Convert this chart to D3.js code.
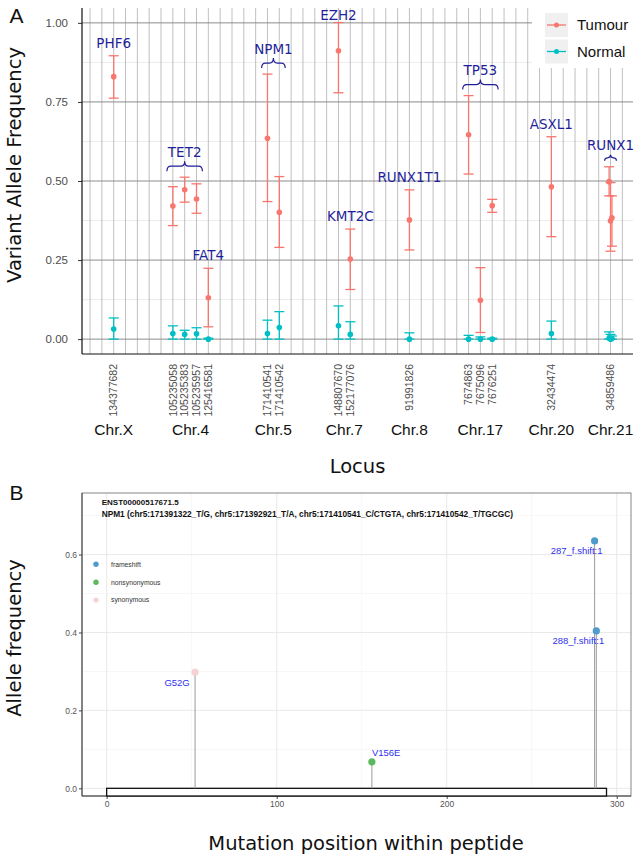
<!DOCTYPE html>
<html><head><meta charset="utf-8">
<script src="https://cdn.jsdelivr.net/npm/d3@7"></script>
<style>body{margin:0;background:#fff}</style>
</head><body>
<svg id="c" width="640" height="859"></svg>
<script>
// ================= Panel A data =================
const lociLabels = ["134377682","105235058","105235383","105235957","125416581","171410541","171410542","148807670","152177076","91991826","7674863","7675096","7676251","32434474","34859486"];
const lociChrom  = ["Chr.X","Chr.4","Chr.4","Chr.4","Chr.4","Chr.5","Chr.5","Chr.7","Chr.7","Chr.8","Chr.17","Chr.17","Chr.17","Chr.20","Chr.21"];
const lociSlot   = [2,7,8,9,10,15,16,21,22,27,32,33,34,39,44];
const lociGene   = ["PHF6","TET2","TET2","TET2","FAT4","NPM1","NPM1","EZH2","KMT2C","RUNX1T1","TP53","TP53","TP53","ASXL1","RUNX1"];
const slotCount  = 46;

const variantLocus = [0,1,2,3,4,5,6,7,8,9,10,11,12,13,14,14,14];
const tumourVAF  = [0.830,0.421,0.472,0.443,0.131,0.635,0.401,0.912,0.253,0.377,0.646,0.123,0.422,0.482,0.498,0.374,0.384];
const tumourLow  = [0.762,0.359,0.433,0.398,0.039,0.435,0.290,0.779,0.157,0.282,0.522,0.021,0.401,0.324,0.453,0.278,0.294];
const tumourHigh = [0.896,0.482,0.512,0.491,0.224,0.838,0.514,1.001,0.348,0.472,0.770,0.226,0.442,0.640,0.545,0.495,0.453];
const normalVAF  = [0.032,0.018,0.015,0.017,0.000,0.018,0.037,0.042,0.015,0.000,0.000,0.000,0.000,0.018,0.003,0.000,0.002];
const normalLow  = [0,0,0,0,0,0,0,0,0,0,0,0,0,0,0,0,0];
const normalHigh = [0.067,0.042,0.028,0.036,0.003,0.060,0.087,0.105,0.055,0.020,0.012,0.007,0.003,0.057,0.023,0.015,0.010];

const yTicksA = [0,0.25,0.5,0.75,1];
const yTickLabelsA = ["0.00","0.25","0.50","0.75","1.00"];
const yMinorA = [0.125,0.375,0.625,0.875];
const seriesNames = ["Tumour","Normal"];
const seriesColors = ["#F8766D","#00BFC4"];

// ================= Panel B data =================
const mutPosition = [52,156,287,288];
const mutFreq     = [0.298,0.068,0.635,0.404];
const mutLabel    = ["G52G","V156E","287_f.shift:1","288_f.shift:1"];
const mutType     = ["synonymous","nonsynonymous","frameshift","frameshift"];
const mutLabelSide= ["below","above","below","below"];
const mutTypes    = ["frameshift","nonsynonymous","synonymous"];
const mutColors   = ["#4f9bcc","#5db75d","#f3d3d8"];
const proteinLength = 294;
const xTicksB = [0,100,200,300];
const xMinorB = [50,150,250];
const yTicksB = [0,0.2,0.4,0.6];
const yMinorB = [0.1,0.3,0.5,0.7];
const transcriptId = "ENST00000517671.5";
const transcriptDesc = "NPM1 (chr5:171391322_T/G, chr5:171392921_T/A, chr5:171410541_C/CTGTA, chr5:171410542_T/TGCGC)";

// ================= Drawing =================
const svg = d3.select("#c");
const DJ = "DejaVu Sans, sans-serif";
const LS = "Liberation Sans, Arial, sans-serif";

// ---------- Panel A ----------
const A = {l:82, r:633, t:8, b:354};
const xA = d3.scaleLinear().domain([-0.68, 45.9]).range([A.l, A.r]);
const yA = d3.scaleLinear().domain([-0.047, 1.047]).range([A.b, A.t]);
const gA = svg.append("g");

gA.selectAll(".hmin").data(yMinorA).join("line")
  .attr("x1",A.l).attr("x2",A.r).attr("y1",d=>yA(d)).attr("y2",d=>yA(d))
  .attr("stroke","#e3e3e3").attr("stroke-width",0.7);
gA.selectAll(".vl").data(d3.range(slotCount)).join("line")
  .attr("x1",d=>xA(d)).attr("x2",d=>xA(d)).attr("y1",A.t).attr("y2",A.b)
  .attr("stroke","#b0b0b0").attr("stroke-width",0.8);
gA.selectAll(".hmaj").data(yTicksA).join("line")
  .attr("x1",A.l).attr("x2",A.r).attr("y1",d=>yA(d)).attr("y2",d=>yA(d))
  .attr("stroke","#8c8c8c").attr("stroke-width",1);

// y axis
const axA = gA.append("g").attr("transform",`translate(${A.l},0)`)
  .call(d3.axisLeft(yA).tickValues(yTicksA).tickFormat((d,i)=>yTickLabelsA[i]).tickSize(4).tickPadding(10));
axA.select(".domain").remove();
axA.selectAll("line").attr("stroke","#333");
axA.selectAll("text").attr("font-family",LS).attr("font-size","11.5px").attr("fill","#4d4d4d");
gA.append("line").attr("x1",A.l).attr("x2",A.l).attr("y1",A.t).attr("y2",A.b).attr("stroke","#111").attr("stroke-width",1.2);
gA.append("line").attr("x1",A.l).attr("x2",A.r).attr("y1",A.b).attr("y2",A.b).attr("stroke","#111").attr("stroke-width",1.2);

// locus tick labels
gA.selectAll(".loc").data(lociLabels).join("text")
  .attr("transform",(d,i)=>`translate(${xA(lociSlot[i])},${A.b+10}) rotate(-90)`)
  .attr("dy","0.35em").attr("text-anchor","end")
  .attr("font-family",LS).attr("font-size","10.5px").attr("fill","#4d4d4d").text(d=>d);

// chromosome labels
const chroms = [...new Set(lociChrom)];
gA.selectAll(".chr").data(chroms).join("text")
  .attr("x",c=>d3.mean(lociSlot.filter((s,i)=>lociChrom[i]===c).map(s=>xA(s))))
  .attr("y",435).attr("text-anchor","middle")
  .attr("font-family",LS).attr("font-size","15.5px").attr("fill","#111").text(c=>c);

// variant x positions with dodge for shared loci
const variantX = variantLocus.map((l,j)=>{
  const same = variantLocus.map((v,k)=>v===l?k:-1).filter(k=>k>=0);
  const n = same.length, idx = same.indexOf(j);
  return lociSlot[l] + (n>1 ? (idx-(n-1)/2)*0.12 : 0);
});

function drawSeries(vals, lows, highs, color){
  const g = gA.append("g");
  vals.forEach((v,j)=>{
    const x = xA(variantX[j]);
    g.append("line").attr("x1",x).attr("x2",x).attr("y1",yA(lows[j])).attr("y2",yA(highs[j]))
      .attr("stroke",color).attr("stroke-width",1.3);
    [lows[j],highs[j]].forEach(e=>{
      g.append("line").attr("x1",x-5).attr("x2",x+5).attr("y1",yA(e)).attr("y2",yA(e))
        .attr("stroke",color).attr("stroke-width",1.3);
    });
    g.append("circle").attr("cx",x).attr("cy",yA(v)).attr("r",2.8).attr("fill",color);
  });
}
drawSeries(tumourVAF,tumourLow,tumourHigh,seriesColors[0]);
drawSeries(normalVAF,normalLow,normalHigh,seriesColors[1]);

// gene labels and braces
const genes = [...new Set(lociGene)];
const geneColor = "#1f1f9c";
genes.forEach(gn=>{
  const locIdx = lociGene.map((g,i)=>g===gn?i:-1).filter(i=>i>=0);
  const varIdx = variantLocus.map((l,j)=>locIdx.includes(l)?j:-1).filter(j=>j>=0);
  const slots = locIdx.map(i=>lociSlot[i]);
  const top = d3.min(varIdx.map(j=>yA(tumourHigh[j])));
  const xm = xA(d3.mean(slots));
  let labelY;
  if (varIdx.length>1){
    const x1 = xA(d3.min(slots)-0.5), x2 = xA(d3.max(slots)+0.5);
    const h = Math.min(10,(x2-x1)*0.5);
    const yb = top-6, yt = yb-h, ym = (yb+yt)/2;
    const xc = (x1+x2)/2, r = Math.min(4,(xc-x1)/2);
    gA.append("path")
      .attr("d",`M${x1},${yb} Q${x1},${ym} ${x1+r},${ym} L${xc-r},${ym} Q${xc},${ym} ${xc},${yt} Q${xc},${ym} ${xc+r},${ym} L${x2-r},${ym} Q${x2},${ym} ${x2},${yb}`)
      .attr("fill","none").attr("stroke",geneColor).attr("stroke-width",1.2);
    labelY = yt-9.5;
  } else {
    labelY = top-13;
  }
  labelY = Math.max(labelY, 15);
  gA.append("text").attr("x",xm).attr("y",labelY+4.9).attr("text-anchor","middle")
    .attr("font-family",DJ).attr("font-size","13.5px").attr("fill",geneColor).text(gn);
});

// legend A
const lg = gA.append("g");
lg.append("rect").attr("x",532).attr("y",0).attr("width",108).attr("height",68).attr("fill","#fff");
seriesNames.forEach((s,i)=>{
  const ky = 13 + i*26.5;
  lg.append("rect").attr("x",545).attr("y",ky).attr("width",23).attr("height",24).attr("fill","#f0f0f0");
  lg.append("line").attr("x1",547).attr("x2",566).attr("y1",ky+12).attr("y2",ky+12).attr("stroke",seriesColors[i]).attr("stroke-width",1.3);
  lg.append("circle").attr("cx",556.5).attr("cy",ky+12).attr("r",2.5).attr("fill",seriesColors[i]);
  lg.append("text").attr("x",577).attr("y",ky+12).attr("dy","0.35em")
    .attr("font-family",LS).attr("font-size","15px").attr("fill","#111").text(s);
});

// titles A
svg.append("text").attr("x",16.5).attr("y",23).attr("text-anchor","middle")
  .attr("font-family",LS).attr("font-size","21px").attr("fill","#111").text("A");
svg.append("text").attr("transform",`translate(21,165) rotate(-90)`).attr("text-anchor","middle")
  .attr("font-family",DJ).attr("font-size","19.5px").attr("fill","#111").text("Variant Allele Frequency");
svg.append("text").attr("x",(A.l+A.r)/2).attr("y",473).attr("text-anchor","middle")
  .attr("font-family",DJ).attr("font-size","19.5px").attr("fill","#111").text("Locus");

// ---------- Panel B ----------
const B = {l:82, r:631, t:493, b:796};
const xB = d3.scaleLinear().domain([-14.5, 308.4]).range([B.l, B.r]);
const yB = d3.scaleLinear().domain([-0.0197, 0.758]).range([B.b, B.t]);
const gB = svg.append("g");

gB.selectAll(".bym").data(yMinorB).join("line")
  .attr("x1",B.l).attr("x2",B.r).attr("y1",d=>yB(d)).attr("y2",d=>yB(d)).attr("stroke","#f2f2f2").attr("stroke-width",0.6);
gB.selectAll(".bxm").data(xMinorB).join("line")
  .attr("x1",d=>xB(d)).attr("x2",d=>xB(d)).attr("y1",B.t).attr("y2",B.b).attr("stroke","#f2f2f2").attr("stroke-width",0.6);
gB.selectAll(".byM").data(yTicksB).join("line")
  .attr("x1",B.l).attr("x2",B.r).attr("y1",d=>yB(d)).attr("y2",d=>yB(d)).attr("stroke","#e6e6e6").attr("stroke-width",0.9);
gB.selectAll(".bxM").data(xTicksB).join("line")
  .attr("x1",d=>xB(d)).attr("x2",d=>xB(d)).attr("y1",B.t).attr("y2",B.b).attr("stroke","#e6e6e6").attr("stroke-width",0.9);
gB.append("rect").attr("x",B.l).attr("y",B.t).attr("width",B.r-B.l).attr("height",B.b-B.t)
  .attr("fill","none").attr("stroke","#666").attr("stroke-width",0.8);

const axBy = gB.append("g").attr("transform",`translate(${B.l},0)`)
  .call(d3.axisLeft(yB).tickValues(yTicksB).tickFormat(d3.format(".1f")).tickSize(3).tickPadding(2));
axBy.select(".domain").remove();
axBy.selectAll("line").attr("stroke","#444");
axBy.selectAll("text").attr("font-family",LS).attr("font-size","8.5px").attr("fill","#555");
const axBx = gB.append("g").attr("transform",`translate(0,${B.b})`)
  .call(d3.axisBottom(xB).tickValues(xTicksB).tickFormat(d3.format("d")).tickSize(3).tickPadding(2));
axBx.select(".domain").remove();
axBx.selectAll("line").attr("stroke","#444");
axBx.selectAll("text").attr("font-family",LS).attr("font-size","8.5px").attr("fill","#555");
gB.append("line").attr("x1",B.l).attr("x2",B.l).attr("y1",B.t).attr("y2",B.b).attr("stroke","#444").attr("stroke-width",1);
gB.append("line").attr("x1",B.l).attr("x2",B.r).attr("y1",B.b).attr("y2",B.b).attr("stroke","#444").attr("stroke-width",1);

// protein bar
gB.append("rect").attr("x",xB(0)).attr("y",yB(0)).attr("width",xB(proteinLength)-xB(0)).attr("height",B.b-yB(0))
  .attr("fill","#fff").attr("stroke","#111").attr("stroke-width",1.3);

// lollipops
mutPosition.forEach((p,i)=>{
  gB.append("line").attr("x1",xB(p)).attr("x2",xB(p)).attr("y1",yB(0)).attr("y2",yB(mutFreq[i]))
    .attr("stroke","#9a9a9a").attr("stroke-width",1);
});
mutPosition.forEach((p,i)=>{
  const x = xB(p), y = yB(mutFreq[i]);
  gB.append("circle").attr("cx",x).attr("cy",y).attr("r",3.6).attr("fill",mutColors[mutTypes.indexOf(mutType[i])]);
  const t = gB.append("text").attr("font-family",LS).attr("font-size","9.5px").attr("fill","#2f2ff0").text(mutLabel[i]);
  if (mutLabelSide[i]==="below") t.attr("x",x-18).attr("y",y+13.5).attr("text-anchor","middle");
  else t.attr("x",x).attr("y",y-6).attr("text-anchor","start");
});

// legend B
mutTypes.forEach((m,i)=>{
  const y = 564.3 + i*17.9;
  gB.append("circle").attr("cx",96).attr("cy",y).attr("r",2.7).attr("fill",mutColors[i]);
  gB.append("text").attr("x",111).attr("y",y).attr("dy","0.35em").attr("font-family",LS)
    .attr("font-size","6.8px").attr("fill","#333").text(m);
});

// header
gB.append("text").attr("x",101.7).attr("y",504.5).attr("font-family",LS).attr("font-weight","bold")
  .attr("font-size","8px").attr("fill","#111").text(transcriptId);
gB.append("text").attr("x",101.7).attr("y",517).attr("font-family",LS).attr("font-weight","bold")
  .attr("font-size","8.3px").attr("fill","#111").text(transcriptDesc);

// titles B
svg.append("text").attr("x",16.5).attr("y",500).attr("text-anchor","middle")
  .attr("font-family",LS).attr("font-size","21px").attr("fill","#111").text("B");
svg.append("text").attr("transform",`translate(21,638) rotate(-90)`).attr("text-anchor","middle")
  .attr("font-family",DJ).attr("font-size","19.5px").attr("fill","#111").text("Allele frequency");
svg.append("text").attr("x",366).attr("y",850).attr("text-anchor","middle")
  .attr("font-family",DJ).attr("font-size","19.5px").attr("fill","#111").text("Mutation position within peptide");
</script>
</body></html>
